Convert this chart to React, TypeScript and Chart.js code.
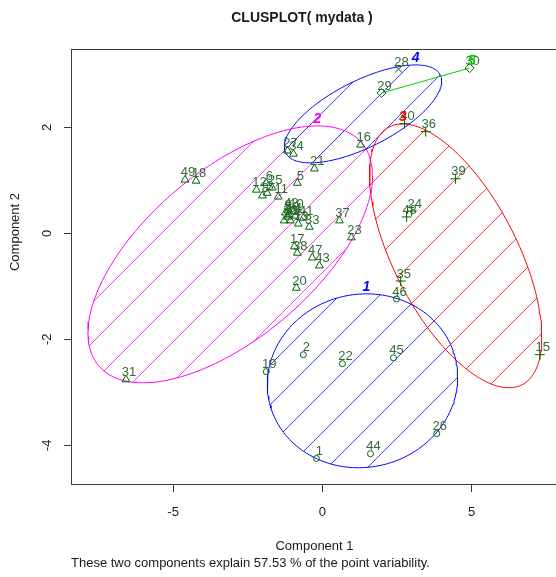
import { useEffect, useRef } from "react";
import { Chart, registerables } from "chart.js";

Chart.register(...registerables);

// Observations: row label, first two principal components, assigned cluster
const obsLabels = [
  "1", "2", "3", "4", "5", "6", "7", "8", "9", "10",
  "11", "12", "13", "14", "15", "16", "17", "18", "19", "20",
  "21", "22", "23", "24", "25", "26", "27", "28", "29", "30",
  "31", "32", "33", "34", "35", "36", "37", "38", "39", "40",
  "41", "42", "43", "44", "45", "46", "47", "48", "49", "50",
];
const comp1 = [
  -0.20, -0.64, -1.85, -0.91, -0.84, -1.88, -1.28, -2.01, -1.24, -0.97,
  -1.48, -2.21, -0.81, -1.07, 7.28, 1.28, -0.94, -4.23, -1.88, -0.87,
  -0.27, 0.67, 0.97, 2.99, -1.68, 3.83, -1.17, 2.55, 1.98, 4.93,
  -6.58, -1.17, -0.44, -0.97, 2.62, 3.46, 0.57, -0.84, 4.46, 2.75,
  -0.64, -1.14, -0.10, 1.61, 2.38, 2.48, -0.34, 2.82, -4.60, -1.11,
];
const comp2 = [
  -4.25, -2.29, 0.76, 0.33, 0.95, 0.95, 0.24, 0.71, 0.39, 0.42,
  0.69, 0.82, 0.18, 0.24, -2.29, 1.67, -0.25, 0.99, -2.61, -1.03,
  1.22, -2.46, -0.08, 0.42, 0.86, -3.78, 1.56, 3.10, 2.65, 3.12,
  -2.76, 0.31, 0.12, 1.50, -0.90, 1.92, 0.24, -0.37, 1.03, 2.07,
  0.29, 0.44, -0.61, -4.16, -2.35, -1.24, -0.46, 0.31, 1.01, 0.35,
];
const obsCluster = [
  1, 1, 2, 2, 2, 2, 2, 2, 2, 2,
  2, 2, 2, 2, 3, 2, 2, 2, 1, 2,
  2, 1, 2, 3, 2, 1, 2, 4, 5, 5,
  2, 2, 2, 2, 3, 3, 2, 2, 3, 3,
  2, 2, 2, 1, 1, 1, 2, 3, 2, 2,
];

// Spanning ellipses of clusters 1-4: centre, half-ranges and covariance term
const ellClusters = [1, 2, 3, 4];
const ellCenterX = [1.342, -3.087, 4.463, 1.359];
const ellCenterY = [-2.783, -0.396, -0.4245, 2.255];
const ellHalfX = [3.188, 4.765, 2.886, 2.634];
const ellHalfY = [1.6415, 2.4245, 2.49, 0.9245];
const ellCov = [0.22, 7.079, -4.43, 1.6285];

const xTicks = [-5, 0, 5];
const yTicks = [-4, -2, 0, 2];
const xRange = [-8.42, 7.89];
const yRange = [-4.75, 3.48];

const titleText = "CLUSPLOT( mydata )";
const xTitle = "Component 1";
const yTitle = "Component 2";
const subText = "These two components explain 57.53 % of the point variability.";

const FONT = '"Liberation Sans", Arial, Helvetica, sans-serif';
const clusterColors = ["#0000FF", "#FF00FF", "#FF0000", "#0000FF", "#00CD00"];
const pointStyles = ["circle", "triangle", "cross", "crossRot", "rectRot"];
const pointSizes = [3, 4.5, 5, 5, 4.5];
const POINT_COLOR = "#006400";
const LABEL_COLOR = "#2f6b33";
const HATCH_GAP = 40;
const HATCH_PHASE = 35;
const CANVAS_W = 564;
const CANVAS_H = 577;

function ellipsePoints(i: number, n = 180) {
  const a = ellHalfX[i];
  const b = ellHalfY[i];
  const k = ellCov[i] / a;
  const m = Math.sqrt(Math.max(b * b - k * k, 0));
  const pts: { x: number; y: number }[] = [];
  for (let j = 0; j <= n; j++) {
    const t = (j / n) * Math.PI * 2;
    pts.push({
      x: ellCenterX[i] + a * Math.cos(t),
      y: ellCenterY[i] + k * Math.cos(t) + m * Math.sin(t),
    });
  }
  return pts;
}

function ellipseTop(i: number) {
  return { x: ellCenterX[i] + ellCov[i] / ellHalfY[i], y: ellCenterY[i] + ellHalfY[i] };
}

export default function App() {
  const ref = useRef<HTMLCanvasElement>(null);

  useEffect(() => {
    const canvas = ref.current;
    if (!canvas) return;

    const obsData = obsLabels.map((_, i) => ({ x: comp1[i], y: comp2[i] }));
    const seg5 = obsLabels
      .map((_, i) => i)
      .filter((i) => obsCluster[i] === 5)
      .map((i) => ({ x: comp1[i], y: comp2[i] }));

    const ellipseSets = ellClusters.map((cl, i) => ({
      type: "scatter" as const,
      label: "cluster " + cl,
      data: ellipsePoints(i),
      showLine: true,
      borderColor: clusterColors[cl - 1],
      backgroundColor: "transparent",
      borderWidth: 1,
      pointRadius: 0,
      tension: 0,
      fill: false,
    }));

    const hatchPlugin = {
      id: "hatch",
      beforeDatasetsDraw(chart: any) {
        const { ctx, chartArea: ca, scales } = chart;
        const xs = scales.x;
        const ys = scales.y;
        ctx.save();
        ctx.beginPath();
        ctx.rect(ca.left, ca.top, ca.right - ca.left, ca.bottom - ca.top);
        ctx.clip();
        ellClusters.forEach((cl, i) => {
          const pts = ellipsePoints(i);
          ctx.save();
          ctx.beginPath();
          pts.forEach((p, j) => {
            const px = xs.getPixelForValue(p.x);
            const py = ys.getPixelForValue(p.y);
            if (j === 0) ctx.moveTo(px, py);
            else ctx.lineTo(px, py);
          });
          ctx.closePath();
          ctx.clip();
          ctx.strokeStyle = clusterColors[cl - 1];
          ctx.globalAlpha = 0.75;
          ctx.lineWidth = 1;
          ctx.beginPath();
          const W = chart.width;
          const H = chart.height;
          const base = (ca.left + ca.top + HATCH_PHASE) % HATCH_GAP;
          for (let c = base; c < W + H; c += HATCH_GAP) {
            ctx.moveTo(c, 0);
            ctx.lineTo(c - H, H);
          }
          ctx.stroke();
          ctx.restore();
        });
        ctx.restore();
      },
    };

    const textPlugin = {
      id: "clusText",
      afterDatasetsDraw(chart: any) {
        const { ctx, scales } = chart;
        const xs = scales.x;
        const ys = scales.y;
        ctx.save();
        // point labels
        ctx.font = "13px " + FONT;
        ctx.fillStyle = LABEL_COLOR;
        ctx.textAlign = "center";
        ctx.textBaseline = "middle";
        obsLabels.forEach((lab, i) => {
          const px = xs.getPixelForValue(comp1[i]);
          const py = ys.getPixelForValue(comp2[i]);
          ctx.fillText(lab, px + 3, py - 7);
        });
        // cluster labels
        ctx.font = "italic bold 14px " + FONT;
        ellClusters.forEach((cl, i) => {
          const top = ellipseTop(i);
          ctx.fillStyle = clusterColors[cl - 1];
          ctx.fillText(String(cl), xs.getPixelForValue(top.x), ys.getPixelForValue(top.y) - 7);
        });
        const hi = seg5.reduce((a, b) => (b.y > a.y ? b : a), seg5[0]);
        ctx.fillStyle = clusterColors[4];
        ctx.fillText("5", xs.getPixelForValue(hi.x) + 2, ys.getPixelForValue(hi.y) - 7);
        ctx.restore();
      },
      afterDraw(chart: any) {
        const { ctx, chartArea: ca, scales } = chart;
        const ys = scales.y;
        ctx.save();
        // plot frame
        ctx.strokeStyle = "#3a3a3a";
        ctx.lineWidth = 1;
        ctx.strokeRect(ca.left + 0.5, ca.top + 0.5, ca.right - ca.left - 1, ca.bottom - ca.top - 1);

        ctx.fillStyle = "#1a1a1a";
        ctx.textAlign = "center";
        ctx.textBaseline = "middle";
        ctx.font = "bold 14px " + FONT;
        ctx.fillText(titleText, 302, 18);

        ctx.font = "13px " + FONT;
        ctx.fillText(xTitle, (ca.left + ca.right) / 2, 546);
        ctx.textAlign = "left";
        ctx.fillText(subText, ca.left, 563);

        // rotated y tick labels and axis title
        ctx.textAlign = "center";
        yTicks.forEach((v) => {
          const py = ys.getPixelForValue(v);
          ctx.save();
          ctx.translate(ca.left - 24, py);
          ctx.rotate(-Math.PI / 2);
          ctx.fillText(String(v), 0, 0);
          ctx.restore();
        });
        ctx.save();
        ctx.translate(15, 232);
        ctx.rotate(-Math.PI / 2);
        ctx.fillText(yTitle, 0, 0);
        ctx.restore();
        ctx.restore();
      },
    };

    const chart = new Chart(canvas, {
      type: "scatter",
      data: {
        datasets: [
          {
            label: "observations",
            data: obsData,
            pointStyle: (c: any) => pointStyles[obsCluster[c.dataIndex] - 1] as any,
            pointRadius: (c: any) => pointSizes[obsCluster[c.dataIndex] - 1],
            borderColor: POINT_COLOR,
            backgroundColor: "transparent",
            pointBorderWidth: 1,
            showLine: false,
          } as any,
          {
            label: "cluster 5",
            data: seg5,
            showLine: true,
            borderColor: clusterColors[4],
            borderWidth: 1,
            pointRadius: 0,
            tension: 0,
          } as any,
          ...ellipseSets,
        ],
      },
      options: {
        animation: false,
        responsive: false,
        maintainAspectRatio: false,
        devicePixelRatio: 1,
        layout: { padding: { top: 49, left: 0, right: 3, bottom: 0 } },
        plugins: {
          legend: { display: false },
          tooltip: { enabled: false },
          title: { display: false },
        },
        scales: {
          x: {
            type: "linear",
            min: xRange[0],
            max: xRange[1],
            afterBuildTicks: (s: any) => {
              s.ticks = xTicks.map((v) => ({ value: v }));
            },
            afterFit: (s: any) => {
              s.height = 92;
            },
            grid: { drawOnChartArea: false, drawTicks: true, tickLength: 7, color: "#3a3a3a" },
            border: { display: false },
            ticks: {
              font: { family: FONT, size: 13 },
              color: "#1a1a1a",
              padding: 13,
              maxRotation: 0,
              autoSkip: false,
            },
          },
          y: {
            type: "linear",
            min: yRange[0],
            max: yRange[1],
            afterBuildTicks: (s: any) => {
              s.ticks = yTicks.map((v) => ({ value: v }));
            },
            afterFit: (s: any) => {
              s.width = 71;
            },
            grid: { drawOnChartArea: false, drawTicks: true, tickLength: 7, color: "#3a3a3a" },
            border: { display: false },
            ticks: { display: false },
          },
        },
      } as any,
      plugins: [hatchPlugin, textPlugin],
    });

    return () => chart.destroy();
  }, []);

  return (
    <div
      style={{
        position: "fixed",
        left: 0,
        top: 0,
        width: 556,
        height: 577,
        overflow: "hidden",
        background: "#fff",
      }}
    >
      <canvas
        ref={ref}
        width={CANVAS_W}
        height={CANVAS_H}
        style={{ display: "block", width: CANVAS_W, height: CANVAS_H }}
      />
    </div>
  );
}
